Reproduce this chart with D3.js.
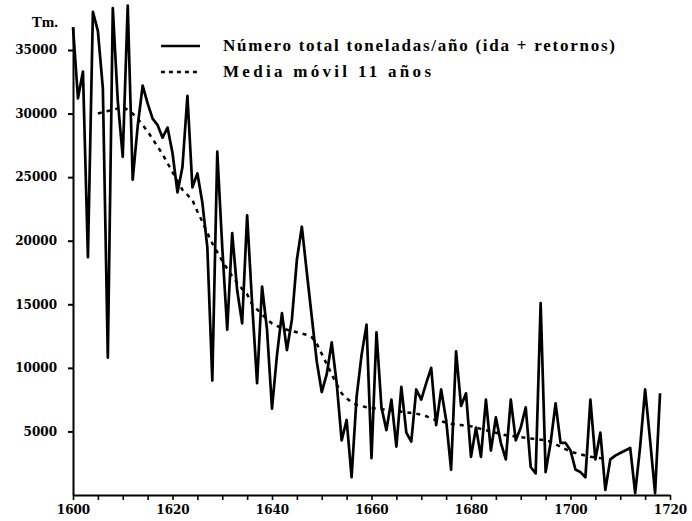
<!DOCTYPE html>
<html>
<head>
<meta charset="utf-8">
<script src="https://cdn.jsdelivr.net/npm/d3@7"></script>
<style>
  html, body { margin: 0; padding: 0; background: #fff; }
  svg { display: block; }
</style>
</head>
<body>
<svg id="chart" width="692" height="521"></svg>
<script>
// Annual tonnage, 1600-1718 (ida + retornos)
const firstYear = 1600;
const tonnage = [
  36800, 31200, 33300, 18700, 38000, 36500, 32000, 10800, 38300, 31000,
  26600, 38500, 24800, 29000, 32200, 30800, 29600, 29100, 28100, 28900,
  26900, 23800, 25800, 31400, 24200, 25300, 23000, 19500, 9000, 27000,
  19500, 13000, 20600, 16100, 13500, 22000, 15100, 8800, 16400, 13000,
  6800, 11000, 14300, 11400, 13800, 18500, 21100, 17500, 14000, 10500,
  8100, 9500, 12000, 8800, 4300, 5900, 1400, 7700, 11000, 13400,
  2900, 12800, 6900, 5100, 7500, 3800, 8500, 4900, 4200, 8300,
  7500, 8800, 10000, 5500, 8300, 5900, 2000, 11300, 7000, 8000,
  3000, 5300, 3000, 7500, 3500, 6100, 4100, 2800, 7500, 4300,
  5300, 6900, 2200, 1700, 15100, 1800, 4100, 7200, 4100, 4100,
  3500, 2000, 1800, 1400, 7500, 2800, 4900, 400, 2800, 3100,
  3300, 3500, 3700, 150, 3800, 8300, 4300, 150, 8000
];
const years = tonnage.map((_, i) => firstYear + i);

// 11-year moving average, 1605-1707
const maFirstYear = 1605;
const movingAvg = [
  30000, 30100, 30200, 30300, 30400, 30500, 30300, 30000, 29600, 29100,
  28600, 28000, 27400, 26800, 26100, 25400, 24700, 24000, 23600, 23200,
  22300, 21500, 20600, 19800, 19100, 18400, 17800, 17200, 16700, 16200,
  15800, 15000, 14600, 14200, 13800, 13500, 13300, 13100, 13000, 12900,
  12800, 12700, 12600, 12400, 11900, 11100, 10300, 9500, 8700, 8000,
  7600, 7300, 7100, 7000, 6900, 6850, 6800, 6750, 6700, 6650,
  6600, 6550, 6500, 6450, 6400, 6300, 6200, 6000, 5900, 5800,
  5700, 5600, 5550, 5500, 5450, 5400, 5300, 5200, 5100, 5000,
  4900, 4800, 4700, 4650, 4600, 4550, 4500, 4450, 4400, 4350,
  4300, 4200, 4000, 3800, 3600, 3400, 3300, 3200, 3100, 3000,
  2950, 2900, 2850
];
const maYears = movingAvg.map((_, i) => maFirstYear + i);

const xTickLabels = [1600, 1620, 1640, 1660, 1680, 1700, 1720];
const yTickLabels = [5000, 10000, 15000, 20000, 25000, 30000, 35000];
const yUnit = "Tm.";
const legendLabels = [
  "Número total toneladas/año (ida + retornos)",
  "Media móvil 11 años"
];

const svg = d3.select("#chart");

const x = d3.scaleLinear().domain([1600, 1720]).range([73, 670]);
const y = d3.scaleLinear().domain([0, 35000]).range([495, 50]);

const ink = "#000";
const labelFont = "'DejaVu Serif', serif";
const textFont = "'Liberation Serif', 'Times New Roman', serif";

// y axis
const yAxisScale = y.copy().domain([0, 36800]).range([y(0), y(36800)]);
const yAxis = svg.append("g")
  .attr("transform", `translate(${x(1600)},0)`)
  .call(d3.axisLeft(yAxisScale).tickValues(yTickLabels).tickSize(5).tickSizeOuter(0)
        .tickFormat(d3.format("d")));
yAxis.select(".domain").attr("stroke", ink).attr("stroke-width", 2);
yAxis.selectAll(".tick line").attr("stroke", ink).attr("stroke-width", 2);
yAxis.selectAll(".tick text")
  .attr("font-family", labelFont).attr("font-weight", "bold").attr("font-size", 12)
  .attr("fill", ink).attr("x", -16);

// x axis, ticks every five years
const xAxis = svg.append("g")
  .attr("transform", `translate(0,${y(0)})`)
  .call(d3.axisBottom(x).tickValues(d3.range(1600, 1721, 5)).tickSize(5).tickSizeOuter(0)
        .tickFormat(d => xTickLabels.includes(d) ? String(d) : ""));
xAxis.select(".domain").attr("stroke", ink).attr("stroke-width", 2);
xAxis.selectAll(".tick line").attr("stroke", ink).attr("stroke-width", 1.6);
xAxis.selectAll(".tick text")
  .attr("font-family", labelFont).attr("font-weight", "bold").attr("font-size", 12)
  .attr("fill", ink).attr("y", 10);

// unit label
svg.append("text")
  .attr("x", 58).attr("y", 27).attr("text-anchor", "end")
  .attr("font-family", textFont).attr("font-weight", "bold").attr("font-size", 15)
  .attr("fill", ink).text(yUnit);

// annual series
const line = d3.line().x(d => x(d[0])).y(d => y(d[1]));
svg.append("path")
  .datum(years.map((yr, i) => [yr, tonnage[i]]))
  .attr("d", line)
  .attr("fill", "none").attr("stroke", ink).attr("stroke-width", 2.7)
  .attr("stroke-linejoin", "round");

// moving average
svg.append("path")
  .datum(maYears.map((yr, i) => [yr, movingAvg[i]]))
  .attr("d", line)
  .attr("fill", "none").attr("stroke", ink).attr("stroke-width", 2.5)
  .attr("stroke-dasharray", "4,5");

// legend
const legend = svg.append("g");
const rows = [
  { y: 46, dash: null, text: legendLabels[0], width: 392 },
  { y: 72, dash: "4,4", text: legendLabels[1], width: 208 }
];
rows.forEach(r => {
  legend.append("line")
    .attr("x1", 161).attr("x2", 200).attr("y1", r.y).attr("y2", r.y)
    .attr("stroke", ink).attr("stroke-width", 2.5)
    .attr("stroke-dasharray", r.dash);
  legend.append("text")
    .attr("x", 223).attr("y", r.y + 5)
    .attr("font-family", textFont).attr("font-weight", "bold").attr("font-size", 17)
    .attr("fill", ink)
    .attr("textLength", r.width).attr("lengthAdjust", "spacing")
    .text(r.text);
});
</script>
</body>
</html>
